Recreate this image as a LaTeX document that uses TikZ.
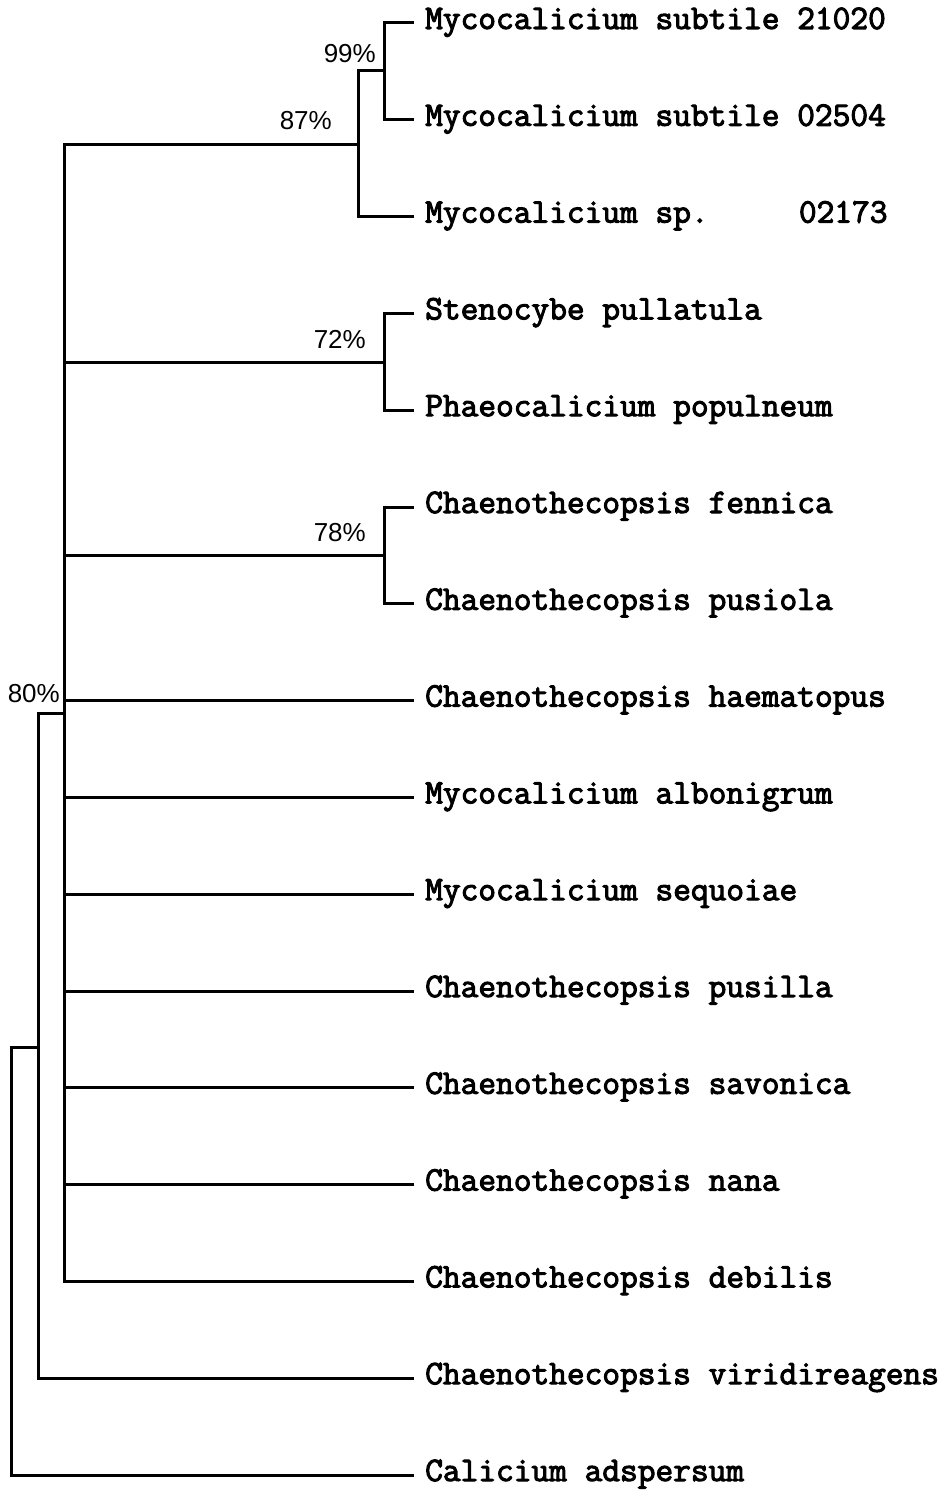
\documentclass[tikz,border=0pt]{standalone}
\usepackage{fontspec}
\newfontfamily\supfont{Liberation Sans}
\newfontfamily\leaffont{Latin Modern Mono}[FakeBold=3]
\begin{document}
\begin{tikzpicture}[x=1pt,y=-1pt,
    branch/.style={line width=3pt,line join=miter,line cap=rect},
    taxon/.style={anchor=base west,inner sep=0pt,font=\leaffont\fontsize{34.4}{35}\selectfont},
    support/.style={anchor=base east,inner sep=0pt,font=\supfont\fontsize{26}{28}\selectfont}]
\useasboundingbox (0,0) rectangle (942,1490);

% tips: line ends of the sixteen taxa
\foreach \i in {1,...,16}{
  \coordinate (t\i) at (412,{23+96.8*(\i-1)});
}
% taxon names
\node[taxon] (n1)  at ([xshift=13pt,yshift=-6pt]t1)  {Mycocalicium subtile 21020};
\node[taxon] (n2)  at ([xshift=13pt,yshift=-6pt]t2)  {Mycocalicium subtile 02504};
\node[taxon] (n3)  at ([xshift=13pt,yshift=-6pt]t3)  {Mycocalicium sp.\hspace*{2.625em}02173};
\node[taxon] (n4)  at ([xshift=13pt,yshift=-6pt]t4)  {Stenocybe pullatula};
\node[taxon] (n5)  at ([xshift=13pt,yshift=-6pt]t5)  {Phaeocalicium populneum};
\node[taxon] (n6)  at ([xshift=13pt,yshift=-6pt]t6)  {Chaenothecopsis fennica};
\node[taxon] (n7)  at ([xshift=13pt,yshift=-6pt]t7)  {Chaenothecopsis pusiola};
\node[taxon] (n8)  at ([xshift=13pt,yshift=-6pt]t8)  {Chaenothecopsis haematopus};
\node[taxon] (n9)  at ([xshift=13pt,yshift=-6pt]t9)  {Mycocalicium albonigrum};
\node[taxon] (n10) at ([xshift=13pt,yshift=-6pt]t10) {Mycocalicium sequoiae};
\node[taxon] (n11) at ([xshift=13pt,yshift=-6pt]t11) {Chaenothecopsis pusilla};
\node[taxon] (n12) at ([xshift=13pt,yshift=-6pt]t12) {Chaenothecopsis savonica};
\node[taxon] (n13) at ([xshift=13pt,yshift=-6pt]t13) {Chaenothecopsis nana};
\node[taxon] (n14) at ([xshift=13pt,yshift=-6pt]t14) {Chaenothecopsis debilis};
\node[taxon] (n15) at ([xshift=13pt,yshift=-6pt]t15) {Chaenothecopsis viridireagens};
\node[taxon] (n16) at ([xshift=13pt,yshift=-6pt]t16) {Calicium adspersum};

% internal nodes (x = depth, y = attachment to parent)
\coordinate (c99) at (384,71);
\coordinate (c87) at (358,145);
\coordinate (c72) at (384,362);
\coordinate (c78) at (384,555);
\coordinate (c80) at (64,713);
\coordinate (cin) at (38,1047);
\coordinate (root) at (11,1261);

% branches
\draw[branch] (c99) |- (t1);
\draw[branch] (c99) |- (t2);
\draw[branch] (c87) |- (c99);
\draw[branch] (c87) |- (t3);
\draw[branch] (c72) |- (t4);
\draw[branch] (c72) |- (t5);
\draw[branch] (c78) |- (t6);
\draw[branch] (c78) |- (t7);
\draw[branch] (c80) |- (c87);
\draw[branch] (c80) |- (c72);
\draw[branch] (c80) |- (c78);
\foreach \i in {8,...,14}{
  \draw[branch] (c80) |- (t\i);
}
\draw[branch] (cin) |- (c80);
\draw[branch] (cin) |- (t15);
\draw[branch] (root) |- (cin);
\draw[branch] (root) |- (t16);

% bootstrap support
\node[support] (s99) at (376,63)  {99\%};
\node[support] (s87) at (332,130) {87\%};
\node[support] (s72) at (366,348) {72\%};
\node[support] (s78) at (366,541) {78\%};
\node[support] (s80) at (60,702)  {80\%};
\end{tikzpicture}
\end{document}
